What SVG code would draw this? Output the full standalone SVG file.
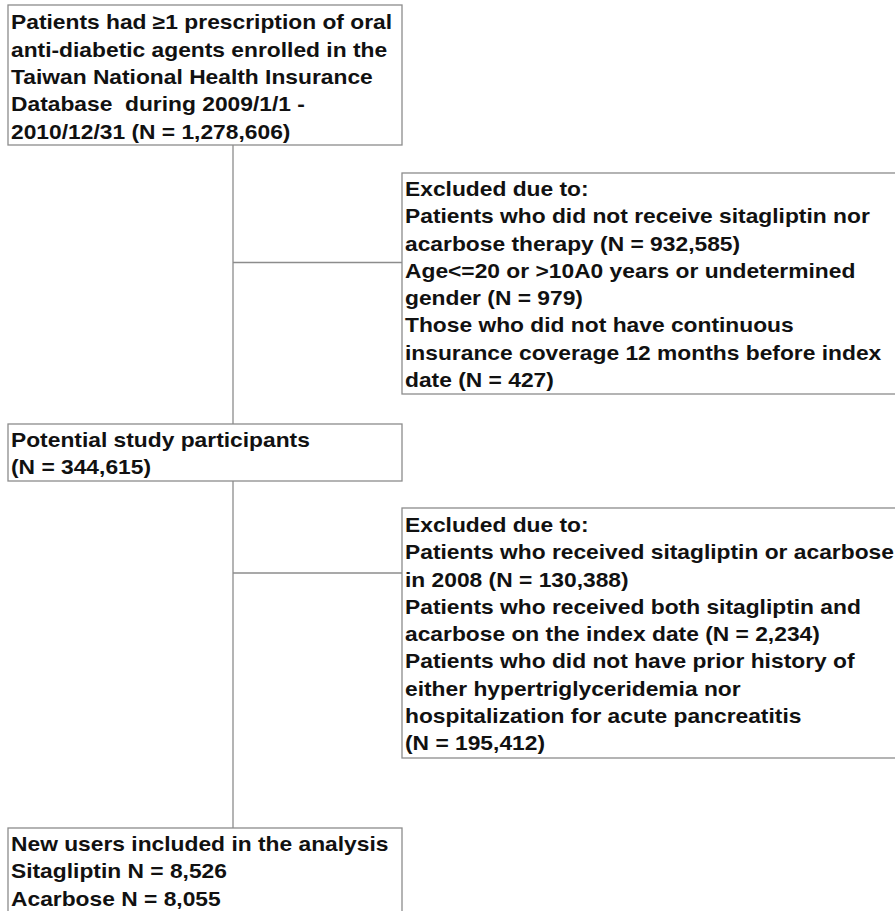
<svg xmlns="http://www.w3.org/2000/svg" width="895" height="911" viewBox="0 0 895 911">
<style>
.box{fill:#ffffff;stroke:#8c8c8c;stroke-width:1.3}
.conn{stroke:#8c8c8c;stroke-width:1.3;fill:none}
.t{font-family:"Liberation Sans",Arial,sans-serif;font-weight:bold;font-size:20px;fill:#111111}
</style>
<rect x="0" y="0" width="895" height="911" fill="#ffffff"/>
<g id="connectors">
<line class="conn" x1="233" y1="145" x2="233" y2="424"/>
<line class="conn" x1="233" y1="262.5" x2="402" y2="262.5"/>
<line class="conn" x1="233" y1="481" x2="233" y2="828"/>
<line class="conn" x1="233" y1="573" x2="402" y2="573"/>
</g>
<g id="source">
<rect class="box" x="8" y="5" width="394" height="140"/>
<g transform="translate(11,0) scale(1.14,1)">
<text class="t"><tspan x="0" y="29.5">Patients had ≥1 prescription of oral</tspan><tspan x="0" y="56.8">anti-diabetic agents enrolled in the</tspan><tspan x="0" y="84.1">Taiwan National Health Insurance</tspan><tspan x="0" y="111.4" xml:space="preserve">Database  during 2009/1/1 -</tspan><tspan x="0" y="138.7">2010/12/31 (N = 1,278,606)</tspan></text>
</g>
</g>
<g id="excluded1">
<rect class="box" x="402" y="173" width="520" height="221"/>
<g transform="translate(405,0) scale(1.14,1)">
<text class="t"><tspan x="0" y="196">Excluded due to:</tspan><tspan x="0" y="223.3">Patients who did not receive sitagliptin nor</tspan><tspan x="0" y="250.6">acarbose therapy (N = 932,585)</tspan><tspan x="0" y="277.9">Age&lt;=20 or &gt;10A0 years or undetermined</tspan><tspan x="0" y="305.2">gender (N = 979)</tspan><tspan x="0" y="332.5">Those who did not have continuous</tspan><tspan x="0" y="359.8">insurance coverage 12 months before index</tspan><tspan x="0" y="387.1">date (N = 427)</tspan></text>
</g>
</g>
<g id="potential">
<rect class="box" x="8" y="424" width="394" height="57"/>
<g transform="translate(11,0) scale(1.14,1)">
<text class="t"><tspan x="0" y="447">Potential study participants</tspan><tspan x="0" y="474.3">(N = 344,615)</tspan></text>
</g>
</g>
<g id="excluded2">
<rect class="box" x="402" y="508" width="520" height="250"/>
<g transform="translate(405,0) scale(1.14,1)">
<text class="t"><tspan x="0" y="532">Excluded due to:</tspan><tspan x="0" y="559.3">Patients who received sitagliptin or acarbose</tspan><tspan x="0" y="586.6">in 2008 (N = 130,388)</tspan><tspan x="0" y="613.9">Patients who received both sitagliptin and</tspan><tspan x="0" y="641.2">acarbose on the index date (N = 2,234)</tspan><tspan x="0" y="668.5">Patients who did not have prior history of</tspan><tspan x="0" y="695.8">either hypertriglyceridemia nor</tspan><tspan x="0" y="723.1">hospitalization for acute pancreatitis</tspan><tspan x="0" y="750.4">(N = 195,412)</tspan></text>
</g>
</g>
<g id="included">
<rect class="box" x="8" y="828" width="394" height="110"/>
<g transform="translate(11,0) scale(1.14,1)">
<text class="t"><tspan x="0" y="851">New users included in the analysis</tspan><tspan x="0" y="878.3">Sitagliptin N = 8,526</tspan><tspan x="0" y="905.6">Acarbose N = 8,055</tspan></text>
</g>
</g>
</svg>
